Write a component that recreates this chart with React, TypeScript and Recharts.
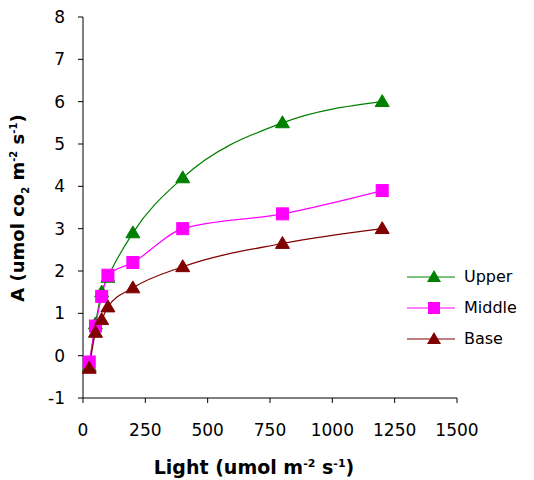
import React from 'react';
import { LineChart, Line, XAxis, YAxis, Label } from 'recharts';

const lightLevels = [25, 50, 75, 100, 200, 400, 800, 1200];
const upperValues = [-0.25, 0.75, 1.5, 1.85, 2.9, 4.2, 5.5, 6.0];
const middleValues = [-0.15, 0.7, 1.4, 1.9, 2.2, 3.0, 3.35, 3.9];
const baseValues = [-0.3, 0.55, 0.85, 1.15, 1.6, 2.1, 2.65, 3.0];
const xTicks = [0, 250, 500, 750, 1000, 1250, 1500];
const yTicks = [-1, 0, 1, 2, 3, 4, 5, 6, 7, 8];

const data = lightLevels.map((l, i) => ({
  light: l,
  upper: upperValues[i],
  middle: middleValues[i],
  base: baseValues[i],
}));

const FONT = '"DejaVu Sans", Verdana, sans-serif';

const triangle = (color: string) => (props: any) => {
  const { cx, cy, key } = props;
  if (cx == null || cy == null) return <g key={key} />;
  const s = 7;
  return (
    <polygon
      key={key}
      points={`${cx},${cy - s} ${cx - s},${cy + s * 0.7} ${cx + s},${cy + s * 0.7}`}
      fill={color}
      stroke={color}
    />
  );
};

const square = (color: string) => (props: any) => {
  const { cx, cy, key } = props;
  if (cx == null || cy == null) return <g key={key} />;
  const s = 6;
  return <rect key={key} x={cx - s} y={cy - s} width={2 * s} height={2 * s} fill={color} stroke={color} />;
};

const legendItems = [
  { name: 'Upper', color: '#008000', shape: 'tri' },
  { name: 'Middle', color: '#FF00FF', shape: 'sq' },
  { name: 'Base', color: '#800000', shape: 'tri' },
];

const LegendBox = () => (
  <div style={{ position: 'absolute', left: 407, top: 261, fontFamily: FONT, fontSize: 16 }}>
    {legendItems.map((it) => (
      <div key={it.name} style={{ display: 'flex', alignItems: 'center', height: 31 }}>
        <svg width={57} height={20}>
          <line x1={0} y1={10} x2={48} y2={10} stroke={it.color} strokeWidth={1.2} />
          {it.shape === 'tri' ? (
            <polygon points={`27,3 20,15 34,15`} fill={it.color} />
          ) : (
            <rect x={21} y={4} width={12} height={12} fill={it.color} />
          )}
        </svg>
        <span style={{ color: '#000' }}>{it.name}</span>
      </div>
    ))}
  </div>
);

const XLabel = (props: any) => {
  const { viewBox } = props;
  const cx = viewBox.x + viewBox.width / 2 - 16;
  return (
    <text x={cx} y={474} textAnchor="middle" fontFamily={FONT} fontSize={19} fontWeight="bold" fill="#000">
      Light (umol m
      <tspan dy={-7} fontSize={11}>-2</tspan>
      <tspan dy={7}> s</tspan>
      <tspan dy={-7} fontSize={11}>-1</tspan>
      <tspan dy={7}>)</tspan>
    </text>
  );
};

const YLabel = () => {
  const x = 24;
  const y = 208;
  return (
    <text x={x} y={y} textAnchor="middle" fontFamily={FONT} fontSize={18} fontWeight="bold" fill="#000" transform={`rotate(-90, ${x}, ${y})`}>
      A (umol co
      <tspan dy={5} fontSize={10}>2</tspan>
      <tspan dy={-5}> m</tspan>
      <tspan dy={-7} fontSize={10}>-2</tspan>
      <tspan dy={7}> s</tspan>
      <tspan dy={-7} fontSize={10}>-1</tspan>
      <tspan dy={7}>)</tspan>
    </text>
  );
};

export default function App() {
  return (
    <div style={{ position: 'absolute', left: 0, top: 0, width: 534, height: 480, background: '#fff' }}>
      <LineChart width={534} height={480} data={data} margin={{ top: 17, right: 77, bottom: 52, left: 0 }}>
        <XAxis
          dataKey="light"
          type="number"
          domain={[0, 1500]}
          ticks={xTicks}
          interval={0}
          stroke="#000"
          tickSize={5}
          tickMargin={21}
          height={30}
          tick={{ fill: '#000', fontFamily: FONT, fontSize: 17 }}
        >
          <Label content={<XLabel />} />
        </XAxis>
        <YAxis
          type="number"
          domain={[-1, 8]}
          ticks={yTicks}
          interval={0}
          stroke="#000"
          tickSize={5}
          tickMargin={13}
          width={83}
          tick={{ fill: '#000', fontFamily: FONT, fontSize: 17 }}
        >
          <Label content={<YLabel />} />
        </YAxis>
        <Line type="monotone" dataKey="upper" name="Upper" stroke="#008000" strokeWidth={1.2} dot={triangle('#008000')} isAnimationActive={false} />
        <Line type="monotone" dataKey="middle" name="Middle" stroke="#FF00FF" strokeWidth={1.2} dot={square('#FF00FF')} isAnimationActive={false} />
        <Line type="monotone" dataKey="base" name="Base" stroke="#800000" strokeWidth={1.2} dot={triangle('#800000')} isAnimationActive={false} />
      </LineChart>
      <LegendBox />
    </div>
  );
}
